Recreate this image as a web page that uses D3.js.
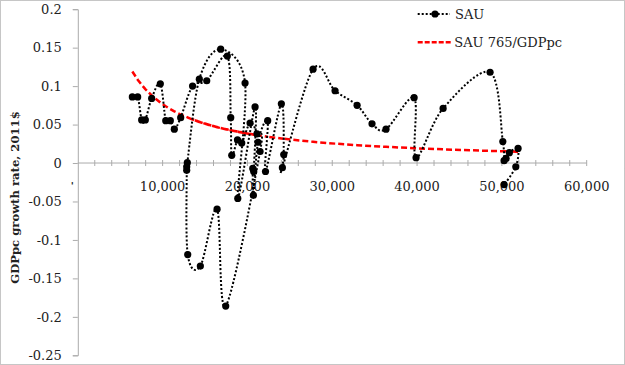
<!DOCTYPE html>
<html>
<head>
<meta charset="utf-8">
<script src="https://cdn.jsdelivr.net/npm/d3@7"></script>
<style>
  html, body { margin: 0; padding: 0; background: #fff; }
  svg { display: block; }
  text { font-family: "DejaVu Serif", "Liberation Serif", serif; }
</style>
</head>
<body>
<svg id="chart" width="625" height="365"></svg>
<script>
// ---- data (in series order) ----
const gdppc = [6430, 7060, 7530, 7960, 8710, 9730, 10370, 10910, 11380, 12130,
  13530, 15200, 17630, 18030, 18150, 18830, 19330, 20310, 21130, 21490,
  17440, 16420, 14450, 12960, 12840, 12840, 12910, 14330, 16850, 19720,
  18860, 20900, 20740, 20630, 20700, 21250, 22390, 22130, 24000, 24280,
  24120, 27740, 30330, 32930, 34690, 36340, 39650, 39880, 43070, 48610,
  50110, 50260, 50500, 50880, 51910, 51640, 50260];
const growth = [0.086, 0.086, 0.056, 0.056, 0.084, 0.103, 0.055, 0.055, 0.044, 0.059,
  0.100, 0.107, 0.139, 0.059, 0.010, 0.030, 0.026, 0.052, 0.038, 0.015,
  -0.186, -0.060, -0.134, -0.119, -0.0095, -0.005, 0.0005, 0.109, 0.148, 0.104,
  -0.046, 0.073, -0.011, -0.007, -0.042, 0.027, 0.055, -0.011, 0.077, 0.011,
  -0.006, 0.122, 0.094, 0.075, 0.051, 0.044, 0.085, 0.007, 0.071, 0.118,
  0.028, 0.003, 0.006, 0.0135, 0.019, -0.005, -0.028];
const refConst = 765;               // SAU 765/GDPpc
const xTickValues = [10000, 20000, 30000, 40000, 50000, 60000];
const xTickLabels = ["10,000", "20,000", "30,000", "40,000", "50,000", "60,000"];
const yTickValues = [0.2, 0.15, 0.1, 0.05, 0, -0.05, -0.1, -0.15, -0.2, -0.25];
const yTickLabels = ["0.2", "0.15", "0.1", "0.05", "0", "-0.05", "-0.1", "-0.15", "-0.2", "-0.25"];
const seriesNames = ["SAU", "SAU 765/GDPpc"];
const yTitle = "GDPpc growth rate, 2011$";

const svg = d3.select("#chart");
const W = 625, H = 365;

// outer dotted frame
svg.append("rect").attr("x", 0.5).attr("y", 0.5).attr("width", W - 1).attr("height", H - 1)
  .attr("fill", "none").attr("stroke", "#8c8c8c").attr("stroke-dasharray", "1,1");

const x = d3.scaleLinear().domain([0, 60000]).range([77.8, 586.7]);
const y = d3.scaleLinear().domain([-0.25, 0.2]).range([355.3, 9.2]);
const axisColor = "#ababab";

// y axis
const yAxis = d3.axisLeft(y).tickValues(yTickValues).tickSize(5).tickFormat((d, i) => yTickLabels[i]);
const gy = svg.append("g").attr("transform", `translate(${x(0)},0)`).call(yAxis);
gy.select(".domain").attr("stroke", axisColor);
gy.selectAll(".tick line").attr("stroke", axisColor);
gy.selectAll(".tick text").attr("x", -16).attr("font-size", 13)
  .attr("font-family", "DejaVu Serif").attr("fill", "#222");

// x axis at y=0: minor crossing ticks every 2000
const gx = svg.append("g").attr("transform", `translate(0,${y(0)})`);
gx.append("line").attr("x1", x(0)).attr("x2", x(60000)).attr("stroke", axisColor);
gx.selectAll("line.tk").data(d3.range(2000, 60001, 2000)).join("line").attr("class", "tk")
  .attr("x1", d => x(d)).attr("x2", d => x(d)).attr("y1", -3).attr("y2", 3).attr("stroke", axisColor);
gx.selectAll("text").data(xTickValues).join("text")
  .attr("x", d => x(d)).attr("y", 27.5).attr("text-anchor", "middle")
  .attr("font-size", 13).attr("fill", "#222").text((d, i) => xTickLabels[i]);

// stray tick mark below zero on y axis
svg.append("text").attr("x", x(0) - 5.5).attr("y", y(-0.034)).attr("text-anchor", "middle")
  .attr("font-size", 10).attr("font-weight", "bold").attr("fill", "#222").text("'");

// y title
svg.append("text").attr("transform", `translate(18.5,197.5) rotate(-90)`)
  .attr("text-anchor", "middle").attr("font-size", 11.6).attr("font-weight", "bold")
  .attr("fill", "#222").text(yTitle);

const pts = gdppc.map((v, i) => [v, growth[i]]);

// red reference line through the same x values, in series order
const redLine = d3.line().x(d => x(d[0])).y(d => y(refConst / d[0])).curve(d3.curveLinear);
svg.append("path").datum(pts).attr("d", redLine).attr("fill", "none")
  .attr("stroke", "#ff0000").attr("stroke-width", 2.5).attr("stroke-dasharray", "6,3");

// black smoothed dotted line
const blackLine = d3.line().x(d => x(d[0])).y(d => y(d[1])).curve(d3.curveCardinal.tension(0));
svg.append("path").datum(pts).attr("d", blackLine).attr("fill", "none")
  .attr("stroke", "#000").attr("stroke-width", 2).attr("stroke-dasharray", "2,2");
svg.selectAll("circle.pt").data(pts).join("circle").attr("class", "pt")
  .attr("cx", d => x(d[0])).attr("cy", d => y(d[1])).attr("r", 3.6).attr("fill", "#000");

// legend
const lg = svg.append("g");
lg.append("line").attr("x1", 417.7).attr("x2", 450).attr("y1", 14).attr("y2", 14)
  .attr("stroke", "#000").attr("stroke-width", 2).attr("stroke-dasharray", "2,2");
lg.append("circle").attr("cx", 435).attr("cy", 14).attr("r", 3.6).attr("fill", "#000");
lg.append("text").attr("x", 455).attr("y", 18.5).attr("font-size", 13).attr("fill", "#222").text(seriesNames[0]);
lg.append("line").attr("x1", 417.7).attr("x2", 452.7).attr("y1", 42.3).attr("y2", 42.3)
  .attr("stroke", "#ff0000").attr("stroke-width", 2.5).attr("stroke-dasharray", "5,2");
lg.append("text").attr("x", 454.3).attr("y", 47).attr("font-size", 13).attr("fill", "#222").text(seriesNames[1]);
</script>
</body>
</html>
